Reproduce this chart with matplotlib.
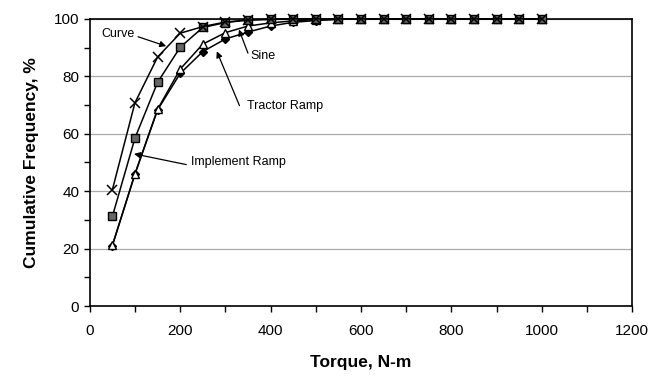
import matplotlib
matplotlib.use("Agg")
import matplotlib.pyplot as plt
from matplotlib.ticker import MultipleLocator

plt.rcParams['font.family'] = ['Liberation Sans', 'DejaVu Sans']

# torque steps (N-m)
torque = [50, 100, 150, 200, 250, 300, 350, 400, 450, 500,
          550, 600, 650, 700, 750, 800, 850, 900, 950, 1000]

# cumulative frequency, %
curve = [40.5, 70.8, 86.7, 95.0, 97.3, 98.9, 99.6, 99.9, 100, 100,
         100, 100, 100, 100, 100, 100, 100, 100, 100, 100]
square_s = [31.2, 58.5, 77.9, 90.1, 97.0, 98.7, 99.6, 99.8, 99.9, 100,
            100, 100, 100, 100, 100, 100, 100, 100, 100, 100]
sine = [21.2, 46.0, 68.5, 82.5, 91.2, 95.2, 97.5, 98.6, 99.3, 99.7,
        99.9, 100, 100, 100, 100, 100, 100, 100, 100, 100]
tractor = [21.0, 46.0, 68.3, 81.0, 88.6, 93.0, 95.4, 97.5, 98.8, 99.4,
           99.8, 100, 100, 100, 100, 100, 100, 100, 100, 100]

fig = plt.figure(figsize=(6.6, 3.77), dpi=100)
ax = fig.add_axes([0.136, 0.188, 0.822, 0.762])

ax.plot(torque, tractor, color='black', lw=1.1, marker='D', ms=4.5,
        mfc='black', mec='black', zorder=3, clip_on=False)
ax.plot(torque, sine, color='black', lw=1.1, marker='^', ms=6,
        mfc='white', mec='black', zorder=4, clip_on=False)
ax.plot(torque, square_s, color='black', lw=1.1, marker='s', ms=5.5,
        mfc='#666666', mec='black', zorder=5, clip_on=False)
ax.plot(torque, curve, color='black', lw=1.1, marker='x', ms=7,
        mew=1.1, zorder=6, clip_on=False)

ax.set_xlim(0, 1200)
ax.set_ylim(0, 100)
ax.xaxis.set_major_locator(MultipleLocator(200))
ax.xaxis.set_minor_locator(MultipleLocator(100))
ax.yaxis.set_major_locator(MultipleLocator(20))
ax.yaxis.set_minor_locator(MultipleLocator(10))
ax.tick_params(which='both', direction='out', length=4, width=1, labelsize=11)
ax.tick_params(axis='x', pad=9)
ax.grid(axis='y', which='major', color='#aaaaaa', lw=0.9)
ax.set_axisbelow(True)
for s in ax.spines.values():
    s.set_linewidth(1.2)

ax.set_xlabel('Torque, N-m', fontsize=12.5, fontweight='bold', labelpad=12)
ax.set_ylabel('Cumulative Frequency, %', fontsize=12.5, fontweight='bold', labelpad=11)

arrow = dict(arrowstyle='-|>', color='black', lw=0.9, mutation_scale=9,
             shrinkA=0, shrinkB=0)
fs = 9
ax.annotate('Curve', xy=(169, 90.5), xytext=(26, 94.6), fontsize=fs,
            va='center', ha='left', arrowprops=dict(arrow, relpos=(1.1, 0.3)))
ax.annotate('Sine', xy=(330, 96.3), xytext=(356, 87), fontsize=fs,
            va='center', ha='left', arrowprops=dict(arrow, relpos=(-0.1, 0.7)))
ax.annotate('Tractor Ramp', xy=(281, 88.7), xytext=(348, 69.8), fontsize=fs,
            va='center', ha='left', arrowprops=dict(arrow, relpos=(-0.1, 0.5)))
ax.annotate('Implement Ramp', xy=(98, 53), xytext=(224, 50.1), fontsize=fs,
            va='center', ha='left', arrowprops=dict(arrow, relpos=(-0.05, 0.3)))

fig.savefig('out.png', dpi=100)
